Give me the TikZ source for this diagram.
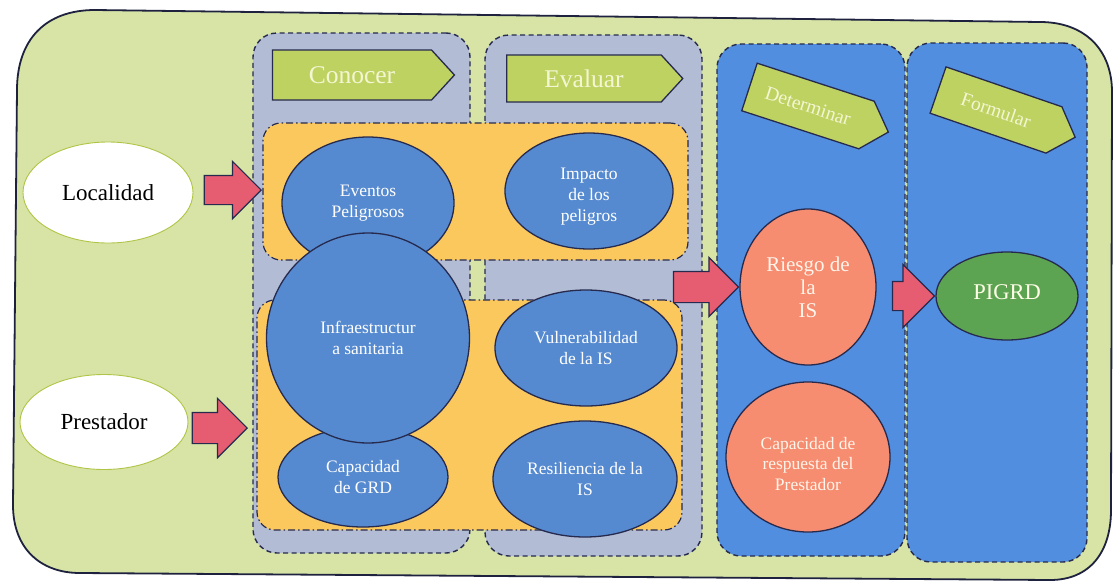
\documentclass[tikz,border=0pt]{standalone}
\usepackage{fontspec}
\setmainfont{Liberation Serif}
\usetikzlibrary{shapes.geometric,shapes.arrows,shapes.symbols}

\definecolor{bggreen}{RGB}{215,228,166}
\definecolor{colgrey}{RGB}{178,188,212}
\definecolor{colblue}{RGB}{82,142,224}
\definecolor{tagolive}{RGB}{190,210,98}
\definecolor{tagtext}{RGB}{244,246,210}
\definecolor{boxorange}{RGB}{251,200,94}
\definecolor{ellblue}{RGB}{86,138,208}
\definecolor{salmon}{RGB}{246,140,112}
\definecolor{plangreen}{RGB}{92,164,82}
\definecolor{arrowpink}{RGB}{230,92,112}
\definecolor{ink}{RGB}{38,42,78}
\definecolor{rimgreen}{RGB}{176,196,70}

\tikzset{
  column/.style={draw=ink, line width=1.4pt, dash pattern=on 5pt off 3.5pt,
    rounded corners=24pt, inner sep=0pt},
  stagebox/.style={draw=ink, line width=1.2pt,
    dash pattern=on 7pt off 3pt on 1.5pt off 3pt,
    fill=boxorange, rounded corners=18pt, inner sep=0pt},
  blob/.style={ellipse, draw=ink, line width=1.3pt, inner sep=0pt,
    align=center, font=\fontsize{17.5}{21}\selectfont},
  blueblob/.style={blob, fill=ellblue, text=white},
  redblob/.style={blob, fill=salmon, text=white!92!orange},
  blobtext/.style={align=center, inner sep=0pt},
  source/.style={ellipse, draw=rimgreen, line width=0.9pt, fill=white,
    inner sep=0pt, font=\fontsize{23}{26}\selectfont},
  stagetag/.style={signal, signal to=east, signal pointer angle=95,
    draw=ink, line width=1.3pt, fill=tagolive, text=tagtext, inner sep=0pt},
  blockarrow/.style={single arrow, draw=ink, line width=1.2pt,
    fill=arrowpink, inner xsep=0pt, single arrow head extend=14pt}
}

\begin{document}
\begin{tikzpicture}[x=1pt,y=-1pt]
\useasboundingbox (0,0) rectangle (1114,584);

% outer panel
\draw[fill=bggreen, draw=ink!80!black, line width=1.8pt]
  (17,90) .. controls (17,40) and (45,10) .. (95,10)
  -- (1040,22) .. controls (1085,22) and (1112,50) .. (1112,92)
  -- (1111,510) .. controls (1111,552) and (1090,580) .. (1050,580)
  -- (80,573) .. controls (40,573) and (13,548) .. (13,505) -- cycle;

% stage columns
\node[column, fill=colgrey, minimum width=217pt, minimum height=520pt]
  (col1) at (361.5,293) {};
\node[column, fill=colgrey, minimum width=217pt, minimum height=521pt]
  (col2) at (593.5,295.5) {};
\node[column, fill=colblue, minimum width=188pt, minimum height=512pt]
  (col3) at (811,300) {};
\node[column, fill=colblue, minimum width=180pt, minimum height=519pt]
  (col4) at (997,302.5) {};

% stage tags
\node[stagetag, minimum width=182pt, minimum height=50pt,
  font=\fontsize{25.5}{28}\selectfont] (tconocer) at (352,75) {Conocer};
\node[stagetag, minimum width=176pt, minimum height=47pt,
  font=\fontsize{25.5}{28}\selectfont] (tevaluar) at (584,78.5) {Evaluar};
\node[stagetag, minimum width=146pt, minimum height=50pt, rotate=-18,
  font=\fontsize{19.5}{22}\selectfont] (tdeterminar) at (808,106) {Determinar};
\node[stagetag, minimum width=145pt, minimum height=49pt, rotate=-19,
  font=\fontsize{19.5}{22}\selectfont] (tformular) at (996,110) {Formular};

% grouping boxes
\node[stagebox, minimum width=425pt, minimum height=137pt]
  (boxtop) at (475.5,191.5) {};
\node[stagebox, minimum width=425pt, minimum height=230pt]
  (boxbot) at (469.5,415) {};

% knowledge / evaluation items
\node[blueblob, minimum width=172pt, minimum height=132pt]
  (eventos) at (368,203) {Eventos\\Peligrosos};
\node[blueblob, minimum width=168pt, minimum height=116pt]
  (impacto) at (589,191) {};
\node[blobtext, text=white, font=\fontsize{17.5}{21}\selectfont]
  (impacto-t) at ([yshift=-6pt]impacto.center) {Impacto\\de los\\peligros};
\node[blueblob, minimum width=170pt, minimum height=100pt]
  (capgrd) at (363,477) {Capacidad\\de GRD};
\node[blueblob, minimum width=203pt, minimum height=210pt]
  (infra) at (368,338) {Infraestructur\\a sanitaria};
\node[blueblob, minimum width=182pt, minimum height=116pt]
  (vulner) at (586,348) {Vulnerabilidad\\de la IS};
\node[blueblob, minimum width=184pt, minimum height=116pt]
  (resil) at (585,479) {Resiliencia de la\\IS};

% risk and plan
\node[redblob, minimum width=136pt, minimum height=156pt,
  font=\fontsize{21}{23}\selectfont]
  (riesgo) at (808,287) {Riesgo de\\la\\IS};
\node[redblob, minimum width=164pt, minimum height=150pt]
  (capresp) at (808,457) {};
\node[blobtext, text=white!92!orange, font=\fontsize{17.5}{20.5}\selectfont]
  (capresp-t) at ([yshift=-7pt]capresp.center)
  {Capacidad de\\respuesta del\\Prestador};
\node[blob, fill=plangreen, text=white!90!yellow, minimum width=142pt,
  minimum height=88pt, font=\fontsize{22.5}{26}\selectfont]
  (pigrd) at (1007,296) {};
\node[blobtext, text=white!90!yellow, font=\fontsize{22.5}{26}\selectfont]
  (pigrd-t) at ([yshift=4pt]pigrd.center) {PIGRD};

% inputs
\node[source, minimum width=170pt, minimum height=101pt]
  (localidad) at (108,192.5) {Localidad};
\node[source, minimum width=168pt, minimum height=95pt]
  (prestador) at (104,422) {Prestador};

% flow arrows
\node[blockarrow, inner ysep=14pt, minimum height=57pt, anchor=tip]
  (alocal) at (262,190) {};
\node[blockarrow, inner ysep=15pt, minimum height=55pt, anchor=tip]
  (aprest) at (248,428) {};
\node[blockarrow, inner ysep=15pt, minimum height=65pt, anchor=tip]
  (ariesgo) at (riesgo.west) {};
\node[blockarrow, inner ysep=14pt, minimum height=42pt, anchor=tip,
  single arrow head extend=17pt]
  (aplan) at (pigrd.west) {};
\end{tikzpicture}
\end{document}
